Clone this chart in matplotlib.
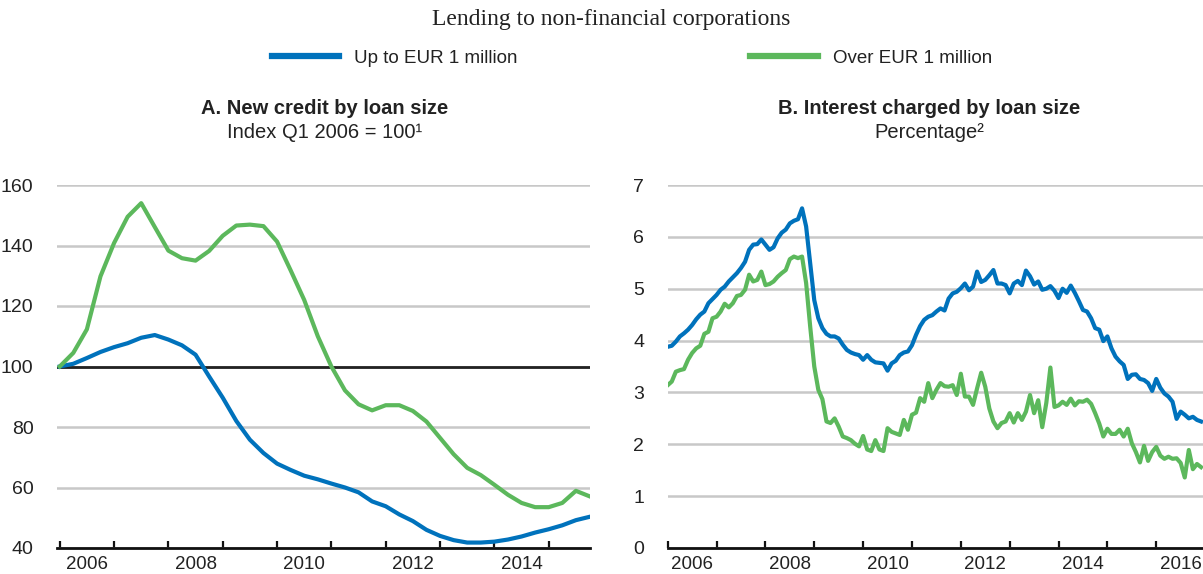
import numpy as np
import matplotlib
matplotlib.use('Agg')
import matplotlib.pyplot as plt

plt.rcParams['font.family'] = ['Liberation Sans Narrow', 'Liberation Sans', 'DejaVu Sans']

# panel A: new credit by loan size, quarterly, index Q1 2006 = 100
small_a = [100, 100.9, 102.8, 104.8, 106.4, 107.7, 109.5, 110.4, 108.9, 107.0,
           103.9, 96.7, 89.7, 82.0, 75.8, 71.4, 67.9, 65.8, 63.9, 62.7,
           61.3, 60.0, 58.4, 55.4, 53.8, 51.1, 48.9, 46.0, 44.0, 42.6,
           41.8, 41.8, 42.1, 42.8, 43.8, 45.1, 46.2, 47.5, 49.2, 50.3]
large_a = [100, 104.5, 112.3, 129.8, 140.8, 149.5, 154.0, 146.1, 138.3, 135.8,
           135.0, 138.2, 143.2, 146.6, 146.9, 146.4, 141.3, 131.8, 122.0, 110.0,
           100.0, 92.1, 87.5, 85.5, 87.2, 87.2, 85.3, 81.8, 76.4, 71.0,
           66.5, 64.1, 60.9, 57.6, 54.9, 53.5, 53.5, 54.9, 58.9, 57.1]
quarters = 2006 + np.arange(len(small_a)) / 4

# panel B: interest charged by loan size, monthly, per cent
small_b = [3.88, 3.90, 3.98, 4.08, 4.14, 4.21, 4.30, 4.41, 4.50, 4.56, 4.72, 4.80,
           4.88, 4.98, 5.04, 5.14, 5.22, 5.30, 5.40, 5.52, 5.75, 5.85, 5.86, 5.95,
           5.85, 5.75, 5.80, 5.97, 6.08, 6.14, 6.26, 6.31, 6.34, 6.55, 6.20, 5.49,
           4.78, 4.43, 4.24, 4.13, 4.08, 4.08, 4.04, 3.92, 3.82, 3.77, 3.74, 3.72,
           3.63, 3.72, 3.63, 3.58, 3.57, 3.56, 3.42, 3.56, 3.61, 3.72, 3.77, 3.79,
           3.91, 4.11, 4.28, 4.40, 4.46, 4.49, 4.56, 4.62, 4.58, 4.81, 4.91, 4.94,
           5.01, 5.10, 4.97, 5.04, 5.33, 5.13, 5.17, 5.26, 5.36, 5.10, 5.10, 5.07,
           4.91, 5.10, 5.15, 5.07, 5.35, 5.24, 5.08, 5.14, 4.98, 5.00, 5.05, 4.96,
           4.82, 5.00, 4.92, 5.06, 4.92, 4.76, 4.59, 4.56, 4.43, 4.24, 4.21, 3.99,
           4.08, 3.85, 3.69, 3.60, 3.53, 3.26, 3.34, 3.35, 3.26, 3.24, 3.18, 3.03,
           3.26, 3.09, 2.98, 2.92, 2.82, 2.49, 2.63, 2.57, 2.50, 2.53, 2.47, 2.44]
large_b = [3.14, 3.21, 3.40, 3.43, 3.45, 3.63, 3.76, 3.85, 3.90, 4.13, 4.17, 4.43,
           4.46, 4.56, 4.71, 4.64, 4.72, 4.86, 4.88, 4.98, 5.27, 5.14, 5.17, 5.33,
           5.07, 5.09, 5.14, 5.23, 5.30, 5.36, 5.57, 5.62, 5.59, 5.62, 5.11, 4.27,
           3.50, 3.05, 2.87, 2.44, 2.41, 2.50, 2.34, 2.15, 2.12, 2.08, 2.01, 1.96,
           2.16, 1.90, 1.87, 2.08, 1.90, 1.87, 2.31, 2.24, 2.21, 2.18, 2.47, 2.28,
           2.57, 2.61, 2.89, 2.82, 3.18, 2.89, 3.05, 3.18, 3.12, 3.11, 3.14, 2.95,
           3.36, 2.92, 2.92, 2.76, 3.08, 3.38, 3.11, 2.69, 2.44, 2.31, 2.41, 2.44,
           2.60, 2.42, 2.60, 2.47, 2.63, 2.95, 2.60, 2.85, 2.33, 2.80, 3.48, 2.72,
           2.75, 2.82, 2.76, 2.88, 2.75, 2.83, 2.82, 2.86, 2.78, 2.60, 2.40, 2.15,
           2.30, 2.20, 2.20, 2.28, 2.15, 2.30, 2.02, 1.85, 1.65, 1.97, 1.68, 1.85,
           1.95, 1.78, 1.72, 1.76, 1.72, 1.73, 1.64, 1.36, 1.89, 1.52, 1.62, 1.56]
months = 2006 + np.arange(len(small_b)) / 12

series_names = ['Up to EUR 1 million', 'Over EUR 1 million']
blue = '#0072BC'
green = '#5CB85C'
txt = '#222222'

fig = plt.figure(figsize=(12.03, 5.74), dpi=100)
W, H = 1203, 574

def style(ax, ymin, ymax, ystep, year_max):
    ax.set_ylim(ymin, ymax)
    ax.set_yticks(np.arange(ymin, ymax + 0.01, ystep))
    ax.grid(axis='y', color='#c8c8c8', lw=1.8)
    ax.set_axisbelow(True)
    for s in ['top', 'right', 'left']:
        ax.spines[s].set_visible(False)
    ax.spines['bottom'].set_linewidth(2)
    ax.spines['bottom'].set_color('#111111')
    ax.spines['bottom'].set_zorder(5)
    ax.set_xticks(np.arange(2006, year_max + 1))
    ax.set_xticklabels([])
    ax.set_xticks(np.arange(2006, year_max + 1, 2) + 0.5, minor=True)
    ax.set_xticklabels([str(y) for y in range(2006, year_max + 1, 2)], minor=True)
    ax.tick_params(axis='x', which='major', direction='in', length=5, width=1.6, color='#111111')
    ax.tick_params(axis='x', which='minor', length=0, pad=6, labelsize=13.5, labelcolor=txt)
    ax.tick_params(axis='y', length=0, pad=17, labelsize=14, labelcolor=txt)

# panel A
axA = fig.add_axes([57 / W, 26 / H, 533 / W, 363 / H])
style(axA, 40, 160, 20, 2015)
axA.set_xlim(2005.95, 2015.76)
axA.axhline(100, color='#222222', lw=2, zorder=3)
axA.plot(quarters, small_a, color=blue, lw=3, zorder=4)
axA.plot(quarters, large_a, color=green, lw=3, zorder=4)

# panel B (cut at the right edge as in the source)
axB = fig.add_axes([667.7 / W, 26 / H, 537.4 / W, 363 / H])
style(axB, 0, 7, 1, 2016)
axB.set_xlim(2006, 2017)
l1, = axB.plot(months, small_b, color=blue, lw=3, zorder=4)
l2, = axB.plot(months, large_b, color=green, lw=3, zorder=4)

# titles
fig.text(611 / W, 1 - 20 / H, 'Lending to non-financial corporations', ha='center', va='center',
         family=['Liberation Serif', 'DejaVu Serif'], fontsize=17, color=txt)
fig.text(325 / W, 1 - 108 / H, 'A. New credit by loan size', ha='center', va='center',
         fontsize=14.5, fontweight='bold', color=txt)
fig.text(325 / W, 1 - 133 / H, 'Index Q1 2006 = 100\u00b9', ha='center', va='center',
         fontsize=14.5, color=txt)
fig.text(929 / W, 1 - 108 / H, 'B. Interest charged by loan size', ha='center', va='center',
         fontsize=14.5, fontweight='bold', color=txt)
fig.text(929 / W, 1 - 133 / H, 'Percentage\u00b2', ha='center', va='center',
         fontsize=14.5, color=txt)

leg = fig.legend([l1, l2], series_names, loc='center', bbox_to_anchor=(632 / W, 1 - 58 / H),
                 ncol=2, frameon=False, fontsize=13.5, handlelength=3.6, handletextpad=0.8,
                 columnspacing=12.4)
for h in leg.get_lines():
    h.set_linewidth(4.5)
for t in leg.get_texts():
    t.set_color(txt)

fig.savefig('out.png', dpi=100)
